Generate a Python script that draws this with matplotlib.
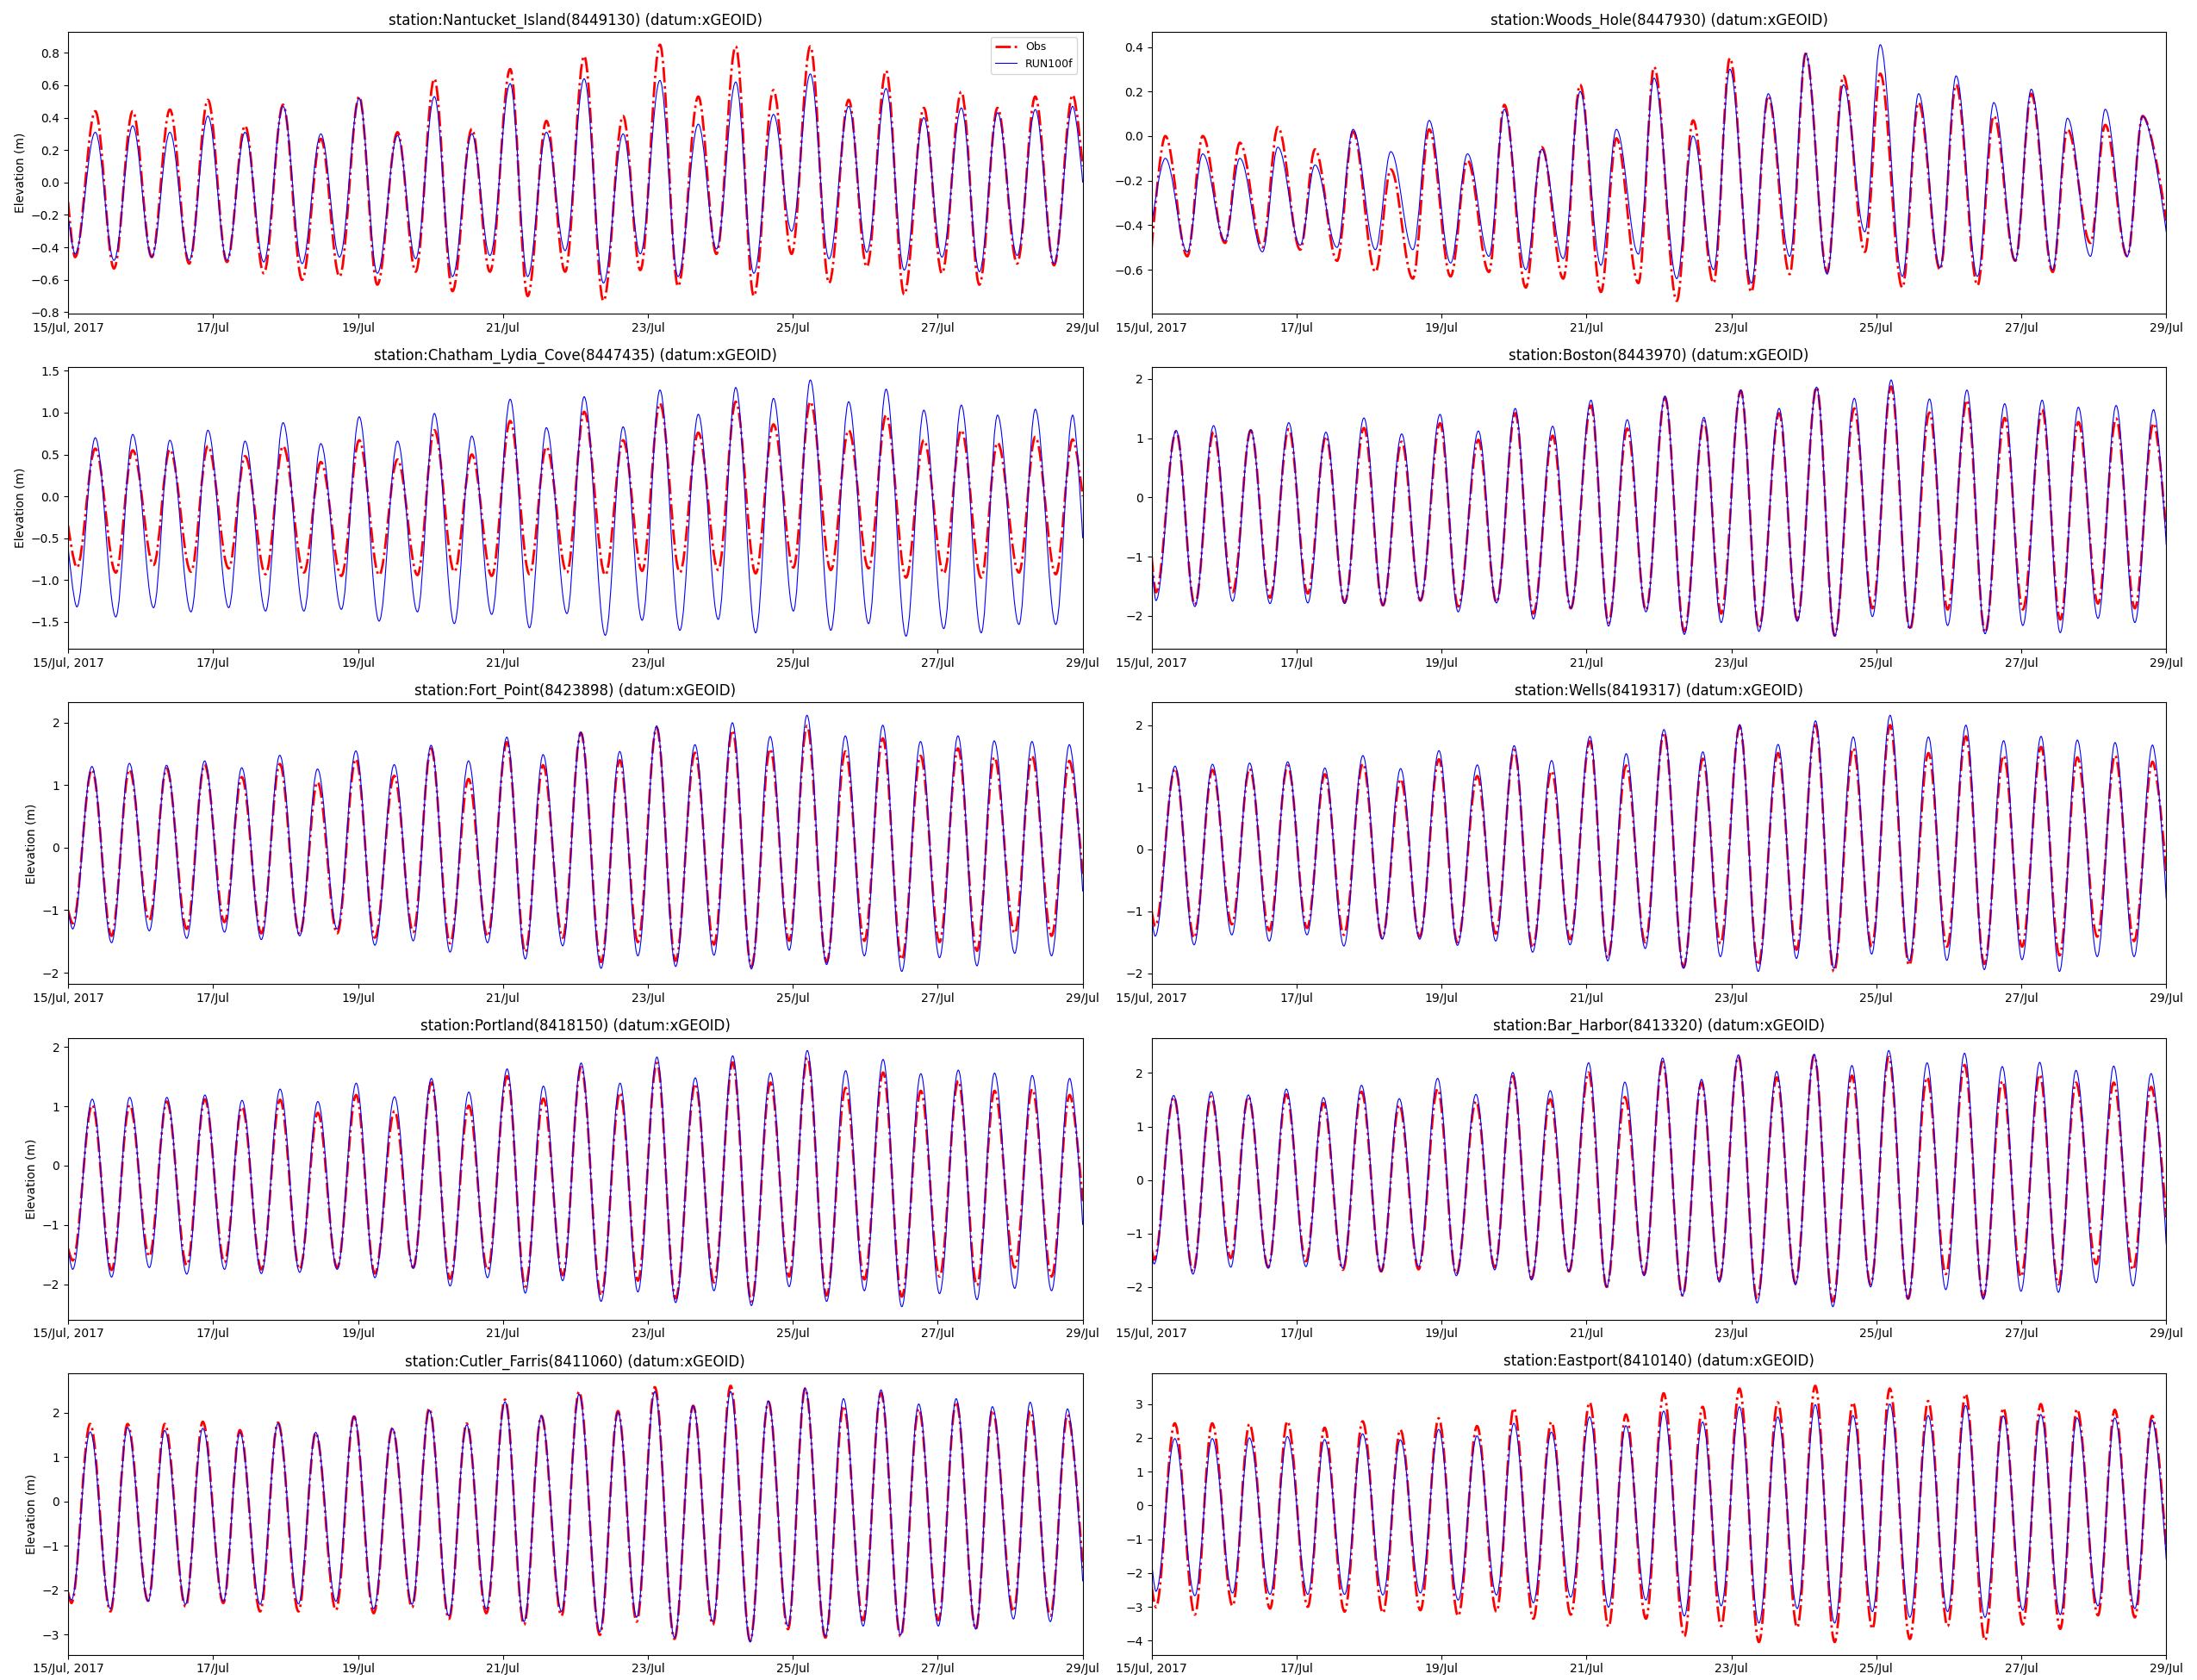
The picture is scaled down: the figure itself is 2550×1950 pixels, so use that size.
import matplotlib
matplotlib.use('Agg')
import matplotlib.pyplot as plt
from matplotlib.path import Path
from matplotlib.patches import PathPatch
from matplotlib.lines import Line2D
import pandas as pd

t_span = 336.0  # hours, 15/Jul 00:00 -> 29/Jul 00:00

# hours after 15/Jul 00:00 of high / low water (Boston), other stations shifted by a lag
t_high = [8.1, 20.5, 32.8, 45.4, 57.7, 70.3, 82.8, 95.5, 108.2, 120.4, 132.8, 145.5, 157.5, 170.0,
          182.9, 195.1, 207.8, 220.2, 232.7, 244.9, 257.6, 270.0, 282.5, 294.9, 306.9, 319.4, 331.8]
t_low = [1.4, 14.3, 26.8, 39.2, 51.7, 63.9, 76.6, 89.0, 101.5, 114.2, 126.4, 138.8, 151.3, 163.7,
         176.4, 188.6, 201.1, 213.8, 226.2, 238.7, 251.1, 263.6, 276.0, 288.5, 300.9, 313.4, 325.6]

titles = ['station:Nantucket_Island(8449130) (datum:xGEOID)',
          'station:Woods_Hole(8447930) (datum:xGEOID)',
          'station:Chatham_Lydia_Cove(8447435) (datum:xGEOID)',
          'station:Boston(8443970) (datum:xGEOID)',
          'station:Fort_Point(8423898) (datum:xGEOID)',
          'station:Wells(8419317) (datum:xGEOID)',
          'station:Portland(8418150) (datum:xGEOID)',
          'station:Bar_Harbor(8413320) (datum:xGEOID)',
          'station:Cutler_Farris(8411060) (datum:xGEOID)',
          'station:Eastport(8410140) (datum:xGEOID)']

# (high lag, low lag) in hours
lags = [(0.9, 0.9), (-3.6, -2.5), (0.9, 1.5), (0.0, 0.0), (-0.2, 0.1),
        (-0.35, -0.25), (-0.1, 0.1), (-0.8, -0.6), (-0.8, -0.3), (-0.45, 0.0)]

# Nantucket
nan_obs_high = [0.44, 0.44, 0.45, 0.51, 0.35, 0.48, 0.27, 0.53, 0.31, 0.64, 0.33, 0.70, 0.38, 0.78,
                0.41, 0.85, 0.53, 0.84, 0.57, 0.84, 0.51, 0.69, 0.46, 0.56, 0.46, 0.53, 0.54]
nan_obs_low = [-0.46, -0.53, -0.46, -0.50, -0.49, -0.56, -0.60, -0.58, -0.63, -0.55, -0.67, -0.55, -0.70, -0.55,
               -0.73, -0.54, -0.64, -0.44, -0.70, -0.44, -0.62, -0.52, -0.69, -0.56, -0.63, -0.50, -0.51]
nan_run_high = [0.31, 0.35, 0.31, 0.41, 0.31, 0.47, 0.30, 0.52, 0.29, 0.53, 0.30, 0.61, 0.31, 0.64,
                0.30, 0.63, 0.36, 0.62, 0.42, 0.67, 0.47, 0.58, 0.40, 0.46, 0.43, 0.45, 0.47]
nan_run_low = [-0.44, -0.48, -0.46, -0.48, -0.48, -0.49, -0.50, -0.46, -0.56, -0.47, -0.58, -0.45, -0.58, -0.42,
               -0.62, -0.44, -0.58, -0.41, -0.56, -0.30, -0.47, -0.43, -0.54, -0.46, -0.55, -0.45, -0.50]
nan_ends = [(-0.12, 0.10), (-0.20, 0.0)]

# Woods Hole
wh_obs_high = [0.0, 0.0, -0.03, 0.04, -0.06, 0.02, -0.15, 0.03, -0.11, 0.14, -0.05, 0.23, -0.01, 0.31,
               0.07, 0.35, 0.18, 0.37, 0.27, 0.28, 0.15, 0.23, 0.09, 0.19, 0.03, 0.05, 0.09]
wh_obs_low = [-0.50, -0.54, -0.48, -0.50, -0.51, -0.56, -0.61, -0.64, -0.63, -0.61, -0.68, -0.64, -0.70, -0.66,
              -0.74, -0.66, -0.70, -0.62, -0.61, -0.52, -0.68, -0.60, -0.67, -0.56, -0.61, -0.48, -0.54]
wh_run_high = [-0.10, -0.08, -0.10, -0.05, -0.13, 0.03, -0.07, 0.07, -0.08, 0.12, -0.06, 0.20, 0.03, 0.26,
               0.00, 0.30, 0.19, 0.37, 0.23, 0.41, 0.19, 0.27, 0.15, 0.21, 0.08, 0.12, 0.09]
wh_run_low = [-0.40, -0.52, -0.47, -0.52, -0.49, -0.50, -0.51, -0.51, -0.57, -0.54, -0.60, -0.55, -0.58, -0.53,
              -0.64, -0.60, -0.66, -0.54, -0.62, -0.43, -0.63, -0.59, -0.63, -0.56, -0.60, -0.54, -0.54]
wh_ends = [(-0.50, -0.38), (-0.40, -0.43)]

# Chatham
ch_obs_high = [0.57, 0.55, 0.56, 0.60, 0.48, 0.60, 0.41, 0.67, 0.44, 0.79, 0.50, 0.90, 0.59, 1.01,
               0.67, 1.11, 0.76, 1.13, 0.86, 1.13, 0.79, 0.97, 0.67, 0.79, 0.64, 0.71, 0.68]
ch_obs_low = [-0.85, -0.91, -0.82, -0.90, -0.86, -0.93, -0.91, -0.95, -0.94, -0.94, -0.90, -0.95, -0.93, -0.91,
              -0.94, -0.89, -0.91, -0.88, -0.92, -0.85, -0.88, -0.86, -0.97, -0.92, -0.97, -0.91, -0.93]
ch_run_high = [0.70, 0.74, 0.67, 0.79, 0.66, 0.88, 0.63, 0.95, 0.66, 0.99, 0.72, 1.16, 0.82, 1.19,
               0.83, 1.27, 0.98, 1.30, 1.17, 1.39, 1.13, 1.28, 1.03, 1.09, 0.97, 1.04, 0.97]
ch_run_low = [-1.32, -1.44, -1.33, -1.38, -1.33, -1.37, -1.37, -1.35, -1.49, -1.38, -1.52, -1.41, -1.57, -1.40,
              -1.66, -1.48, -1.60, -1.47, -1.63, -1.37, -1.60, -1.52, -1.67, -1.58, -1.63, -1.53, -1.53]
ch_ends = [(-0.35, 0.0), (-0.60, -0.50)]

# Boston
bos_obs_high = [1.11, 1.10, 1.13, 1.15, 1.03, 1.17, 0.94, 1.25, 0.97, 1.42, 1.04, 1.55, 1.16, 1.68,
                1.29, 1.80, 1.42, 1.86, 1.50, 1.87, 1.43, 1.64, 1.34, 1.48, 1.27, 1.33, 1.25]
bos_obs_low = [-1.60, -1.81, -1.60, -1.69, -1.62, -1.77, -1.82, -1.74, -1.84, -1.77, -1.96, -1.87, -2.11, -1.90,
               -2.26, -1.96, -2.21, -2.06, -2.33, -1.87, -2.23, -1.89, -2.28, -1.89, -2.06, -1.79, -1.87]
bos_run_high = [1.13, 1.21, 1.14, 1.26, 1.10, 1.34, 1.07, 1.40, 1.12, 1.50, 1.20, 1.64, 1.31, 1.71,
                1.35, 1.81, 1.50, 1.86, 1.67, 1.98, 1.66, 1.81, 1.58, 1.64, 1.52, 1.55, 1.48]
bos_run_low = [-1.74, -1.84, -1.75, -1.79, -1.78, -1.79, -1.82, -1.74, -1.93, -1.78, -2.05, -1.87, -2.17, -1.93,
               -2.31, -2.11, -2.26, -2.09, -2.34, -2.01, -2.21, -2.16, -2.30, -2.16, -2.28, -2.04, -2.11]
bos_ends = [(-1.00, -0.60), (-1.05, -0.80)]

# Fort Point
fp_obs_high = [1.25, 1.25, 1.27, 1.33, 1.13, 1.34, 1.05, 1.42, 1.15, 1.59, 1.10, 1.69, 1.32, 1.84,
               1.40, 1.92, 1.52, 1.88, 1.58, 1.95, 1.54, 1.75, 1.47, 1.59, 1.45, 1.47, 1.39]
fp_obs_low = [-1.21, -1.41, -1.16, -1.30, -1.19, -1.37, -1.39, -1.37, -1.44, -1.35, -1.53, -1.42, -1.67, -1.44,
              -1.83, -1.51, -1.81, -1.55, -1.90, -1.49, -1.83, -1.49, -1.79, -1.51, -1.65, -1.37, -1.41]
fp_run_high = [1.30, 1.35, 1.32, 1.39, 1.28, 1.48, 1.26, 1.55, 1.33, 1.64, 1.39, 1.77, 1.49, 1.85,
               1.54, 1.95, 1.65, 2.00, 1.78, 2.12, 1.79, 1.96, 1.70, 1.79, 1.71, 1.70, 1.65]
fp_run_low = [-1.30, -1.52, -1.33, -1.45, -1.35, -1.47, -1.41, -1.30, -1.56, -1.49, -1.67, -1.52, -1.78, -1.57,
              -1.93, -1.73, -1.90, -1.72, -1.94, -1.64, -1.87, -1.73, -1.98, -1.76, -1.89, -1.69, -1.73]
fp_ends = [(-1.00, -0.45), (-1.00, -0.70)]

# Wells
we_obs_high = [1.30, 1.28, 1.30, 1.35, 1.21, 1.38, 1.13, 1.45, 1.18, 1.60, 1.26, 1.74, 1.35, 1.88,
               1.46, 1.98, 1.55, 2.00, 1.63, 2.00, 1.55, 1.82, 1.51, 1.65, 1.48, 1.51, 1.41]
we_obs_low = [-1.24, -1.43, -1.21, -1.31, -1.27, -1.38, -1.43, -1.41, -1.50, -1.36, -1.59, -1.45, -1.76, -1.50,
              -1.90, -1.52, -1.87, -1.62, -1.97, -1.57, -1.87, -1.57, -1.85, -1.57, -1.71, -1.41, -1.48]
we_run_high = [1.34, 1.37, 1.39, 1.41, 1.31, 1.51, 1.30, 1.59, 1.36, 1.67, 1.43, 1.82, 1.54, 1.93,
               1.57, 2.01, 1.69, 2.07, 1.81, 2.16, 1.81, 2.00, 1.75, 1.82, 1.76, 1.72, 1.68]
we_run_low = [-1.40, -1.54, -1.38, -1.48, -1.38, -1.56, -1.45, -1.45, -1.55, -1.48, -1.66, -1.54, -1.80, -1.60,
              -1.92, -1.73, -1.97, -1.76, -1.92, -1.69, -1.80, -1.79, -1.94, -1.78, -1.97, -1.73, -1.73]
we_ends = [(-1.00, -0.35), (-1.10, -0.80)]

# Portland
po_obs_high = [1.02, 1.02, 1.08, 1.12, 0.99, 1.11, 0.89, 1.19, 0.92, 1.40, 1.01, 1.51, 1.13, 1.66,
               1.23, 1.73, 1.38, 1.74, 1.40, 1.82, 1.31, 1.57, 1.26, 1.43, 1.26, 1.29, 1.19]
po_obs_low = [-1.60, -1.76, -1.53, -1.68, -1.63, -1.75, -1.75, -1.72, -1.82, -1.72, -1.91, -1.76, -2.04, -1.85,
              -2.19, -1.94, -2.24, -1.97, -2.29, -1.87, -2.19, -1.92, -2.21, -1.87, -2.02, -1.72, -1.87]
po_run_high = [1.12, 1.15, 1.15, 1.19, 1.10, 1.29, 1.08, 1.39, 1.16, 1.47, 1.24, 1.63, 1.34, 1.73,
               1.39, 1.83, 1.48, 1.85, 1.56, 1.94, 1.60, 1.79, 1.55, 1.61, 1.56, 1.52, 1.47]
po_run_low = [-1.75, -1.88, -1.72, -1.83, -1.75, -1.82, -1.80, -1.75, -1.89, -1.73, -2.03, -1.89, -2.15, -1.94,
              -2.29, -2.13, -2.31, -2.11, -2.36, -2.04, -2.29, -2.11, -2.38, -2.16, -2.26, -2.07, -2.11]
po_ends = [(-1.40, -0.60), (-1.40, -1.00)]

# Bar Harbor
bh_obs_high = [1.55, 1.56, 1.56, 1.60, 1.44, 1.65, 1.40, 1.70, 1.47, 1.94, 1.51, 2.01, 1.55, 2.21,
               1.82, 2.31, 1.92, 2.33, 1.95, 2.30, 1.92, 2.15, 1.85, 1.97, 1.82, 1.82, 1.74]
bh_obs_low = [-1.49, -1.71, -1.46, -1.63, -1.52, -1.68, -1.71, -1.67, -1.76, -1.63, -1.84, -1.71, -2.00, -1.76,
              -2.16, -1.87, -2.22, -1.92, -2.27, -1.95, -2.22, -1.76, -2.19, -1.81, -1.95, -1.57, -1.68]
bh_run_high = [1.58, 1.65, 1.59, 1.70, 1.54, 1.77, 1.52, 1.90, 1.60, 2.01, 1.67, 2.19, 1.83, 2.28,
               1.88, 2.34, 2.03, 2.35, 2.14, 2.42, 2.19, 2.37, 2.12, 2.20, 2.05, 2.13, 1.99]
bh_run_low = [-1.57, -1.76, -1.63, -1.65, -1.62, -1.65, -1.71, -1.62, -1.79, -1.68, -1.87, -1.71, -2.00, -1.79,
              -2.16, -1.91, -2.30, -1.96, -2.37, -2.00, -2.22, -2.05, -2.23, -2.08, -2.10, -1.92, -1.98]
bh_ends = [(-1.30, -0.70), (-1.40, -1.20)]

# Cutler Farris
cf_obs_high = [1.75, 1.75, 1.75, 1.80, 1.61, 1.78, 1.55, 1.92, 1.65, 2.10, 1.76, 2.30, 1.93, 2.48,
               2.04, 2.58, 2.16, 2.61, 2.25, 2.55, 2.16, 2.45, 2.09, 2.25, 2.06, 2.04, 1.96]
cf_obs_low = [-2.29, -2.48, -2.24, -2.37, -2.29, -2.48, -2.48, -2.45, -2.52, -2.39, -2.65, -2.52, -2.78, -2.58,
              -3.01, -2.71, -3.10, -2.78, -3.14, -2.88, -3.07, -2.68, -3.04, -2.68, -2.88, -2.48, -2.58]
cf_run_high = [1.57, 1.67, 1.60, 1.65, 1.55, 1.76, 1.56, 1.92, 1.65, 2.06, 1.73, 2.25, 1.93, 2.42,
               2.01, 2.48, 2.16, 2.48, 2.27, 2.56, 2.32, 2.52, 2.20, 2.32, 2.14, 2.24, 2.09]
cf_run_low = [-2.22, -2.42, -2.25, -2.32, -2.25, -2.32, -2.31, -2.25, -2.42, -2.32, -2.58, -2.42, -2.71, -2.48,
              -2.94, -2.61, -3.07, -2.71, -3.17, -2.81, -3.04, -2.81, -3.01, -2.81, -2.88, -2.65, -2.71]
cf_ends = [(-2.05, -1.50), (-2.10, -1.80)]

# Eastport
ep_obs_high = [2.43, 2.43, 2.41, 2.49, 2.30, 2.49, 2.24, 2.58, 2.35, 2.88, 2.47, 3.05, 2.69, 3.32,
               2.92, 3.46, 3.05, 3.54, 3.05, 3.46, 3.09, 3.30, 2.88, 3.00, 2.85, 2.83, 2.65]
ep_obs_low = [-3.01, -3.23, -2.97, -3.05, -3.00, -3.14, -3.18, -3.10, -3.27, -3.14, -3.35, -3.23, -3.59, -3.35,
              -3.87, -3.57, -4.04, -3.61, -4.04, -3.65, -3.95, -3.57, -3.99, -3.52, -3.65, -3.25, -3.31]
ep_run_high = [1.98, 1.98, 2.00, 2.04, 1.95, 2.12, 1.94, 2.25, 2.06, 2.43, 2.17, 2.62, 2.36, 2.79,
               2.47, 2.92, 2.62, 2.98, 2.66, 3.00, 2.66, 2.96, 2.65, 2.69, 2.59, 2.59, 2.52]
ep_run_low = [-2.54, -2.67, -2.59, -2.63, -2.63, -2.63, -2.65, -2.59, -2.80, -2.65, -2.88, -2.71, -3.01, -2.80,
              -3.27, -2.97, -3.48, -3.05, -3.48, -3.14, -3.31, -3.14, -3.31, -3.10, -3.23, -2.97, -3.05]
ep_ends = [(-2.40, -1.30), (-1.70, -1.60)]

stations = [
    (nan_obs_high, nan_obs_low, nan_run_high, nan_run_low, nan_ends),
    (wh_obs_high, wh_obs_low, wh_run_high, wh_run_low, wh_ends),
    (ch_obs_high, ch_obs_low, ch_run_high, ch_run_low, ch_ends),
    (bos_obs_high, bos_obs_low, bos_run_high, bos_run_low, bos_ends),
    (fp_obs_high, fp_obs_low, fp_run_high, fp_run_low, fp_ends),
    (we_obs_high, we_obs_low, we_run_high, we_run_low, we_ends),
    (po_obs_high, po_obs_low, po_run_high, po_run_low, po_ends),
    (bh_obs_high, bh_obs_low, bh_run_high, bh_run_low, bh_ends),
    (cf_obs_high, cf_obs_low, cf_run_high, cf_run_low, cf_ends),
    (ep_obs_high, ep_obs_low, ep_run_high, ep_run_low, ep_ends),
]


def tide_path(high, low, ends, lag):
    # high/low waters joined by bezier segments with flat tangents at the extremes
    pts = [(0.0, ends[0]), (t_span, ends[1])]
    pts += [(t + lag[0], v) for t, v in zip(t_high, high)]
    pts += [(t + lag[1], v) for t, v in zip(t_low, low)]
    pts = sorted(p for p in pts if 0.0 <= p[0] <= t_span)
    verts = [pts[0]]
    codes = [Path.MOVETO]
    for k in range(1, len(pts)):
        (ta, va), (tb, vb) = pts[k - 1], pts[k]
        dt = tb - ta
        c1 = (ta, va) if k == 1 else (ta + 0.36 * dt, va)
        c2 = (tb, vb) if k == len(pts) - 1 else (tb - 0.36 * dt, vb)
        verts += [c1, c2, (tb, vb)]
        codes += [Path.CURVE4] * 3
    return Path(verts, codes)


tick_days = pd.date_range('2017-07-15', '2017-07-29', freq='2D')
tick_pos = [(d - tick_days[0]).total_seconds() / 3600 for d in tick_days]
tick_labels = ['15/Jul, 2017'] + [d.strftime('%d/%b') for d in tick_days[1:]]

fig, axes = plt.subplots(5, 2, figsize=(25.5, 19.5), dpi=100)
fig.subplots_adjust(left=0.031, right=0.986, top=0.981, bottom=0.015, wspace=0.068, hspace=0.19)

for i, ax in enumerate(axes.flat):
    obs_h, obs_l, run_h, run_l, ends = stations[i]
    ax.add_patch(PathPatch(tide_path(obs_h, obs_l, ends[0], lags[i]), fill=False,
                           edgecolor='r', lw=2, linestyle='-.'))
    ax.add_patch(PathPatch(tide_path(run_h, run_l, ends[1], lags[i]), fill=False,
                           edgecolor='b', lw=0.8, linestyle='-'))
    ax.autoscale_view()
    ax.set_xlim(0, t_span)
    ax.set_xticks(tick_pos)
    ax.set_xticklabels(tick_labels)
    ax.set_title(titles[i])
    if i % 2 == 0:
        ax.set_ylabel('Elevation (m)')
    if i == 0:
        handles = [Line2D([], [], color='r', lw=2, ls='-.'), Line2D([], [], color='b', lw=0.8)]
        ax.legend(handles, ['Obs', 'RUN100f'], loc='upper right', fontsize=9)

plt.savefig('out.png', dpi=100)
